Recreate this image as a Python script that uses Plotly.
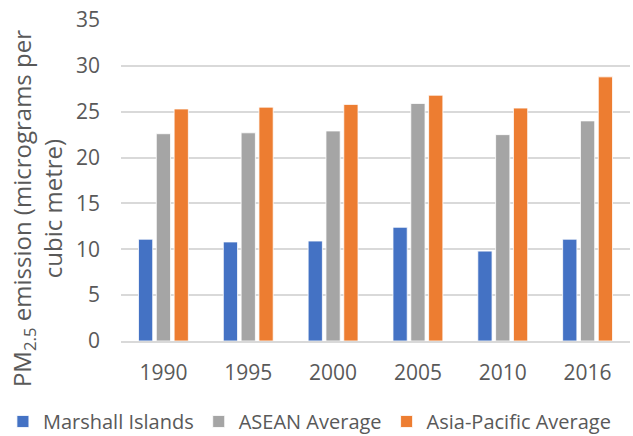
import plotly.graph_objects as go

years = ["1990", "1995", "2000", "2005", "2010", "2016"]
marshall = [11.1, 10.8, 10.9, 12.4, 9.8, 11.1]
asean = [22.6, 22.7, 22.9, 25.9, 22.5, 24.0]
asia_pacific = [25.3, 25.5, 25.8, 26.8, 25.4, 28.8]

series = [
    ("Marshall Islands", marshall, "#4472C4"),
    ("ASEAN Average", asean, "#A5A5A5"),
    ("Asia-Pacific Average", asia_pacific, "#ED7D31"),
]

font_family = "Open Sans, Noto Sans, sans-serif"
text_color = "#595959"

fig = go.Figure()
for name, values, color in series:
    fig.add_trace(go.Bar(
        x=years, y=values, name=name,
        marker=dict(color=color, line=dict(color="white", width=0.8)),
    ))

fig.update_layout(
    width=633, height=436,
    margin=dict(l=121, r=3, t=20, b=95, autoexpand=False),
    paper_bgcolor="white", plot_bgcolor="white",
    barmode="group", bargap=0.37, bargroupgap=0.2,
    font=dict(family=font_family, color=text_color),
    showlegend=True,
    legend=dict(
        orientation="h", x=-0.232, xanchor="left",
        y=-0.19, yanchor="top",
        font=dict(size=20, color=text_color),
        itemwidth=30,
        tracegroupgap=0,
    ),
    xaxis=dict(
        type="category",
        tickfont=dict(size=21, color=text_color),
        showline=True, linecolor="#d9d9d9", linewidth=1.5,
        ticks="", showgrid=False, tickangle=0,
        ticklabelstandoff=12,
    ),
    yaxis=dict(
        range=[0, 35], dtick=5,
        tickfont=dict(size=21, color=text_color),
        showgrid=True, gridcolor="#d9d9d9", gridwidth=1.5,
        zeroline=False, showline=False, ticks="",
        ticklabelstandoff=20,
    ),
    annotations=[dict(
        text="PM<sub>2.5</sub> emission (micrograms per<br>cubic metre)",
        textangle=-90,
        xref="paper", yref="paper",
        x=-0.165, y=0.411, xanchor="center", yanchor="middle",
        showarrow=False,
        font=dict(size=24, color=text_color, family=font_family),
    )],
)

fig.write_html("out.html")
